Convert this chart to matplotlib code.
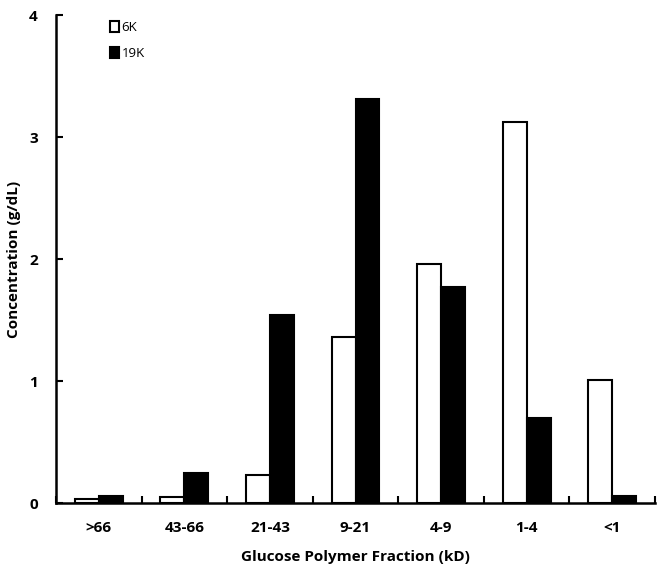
import numpy as np
import matplotlib
matplotlib.use('Agg')
import matplotlib.pyplot as plt
from matplotlib.patches import Patch

categories = ['>66', '43-66', '21-43', '9-21', '4-9', '1-4', '<1']
conc_6k = [0.03, 0.05, 0.23, 1.36, 1.96, 3.12, 1.01]
conc_19k = [0.06, 0.25, 1.54, 3.31, 1.77, 0.70, 0.06]
series_names = ['6K', '19K']

plt.rcParams['font.family'] = ['Open Sans', 'DejaVu Sans']

fig = plt.figure(figsize=(6.65, 5.7), dpi=100)
ax = fig.add_axes([0.0842, 0.1175, 0.9008, 0.856])

x = np.arange(len(categories))
w = 0.28
ax.bar(x - w / 2, conc_6k, width=w, color='white', edgecolor='black', linewidth=1.5)
ax.bar(x + w / 2, conc_19k, width=w, color='black', edgecolor='black', linewidth=1.5)

ax.set_xlim(-0.5, len(categories) - 0.5)
ax.set_ylim(0, 4)

for s in ['top', 'right']:
    ax.spines[s].set_visible(False)
for s in ['left', 'bottom']:
    ax.spines[s].set_linewidth(1.8)

# category boundaries get the tick marks, labels sit in between
ax.set_xticks(np.arange(len(categories) + 1) - 0.5)
ax.set_xticklabels([])
ax.set_xticks(x, minor=True)
ax.set_xticklabels(categories, minor=True, fontsize=11, fontweight='bold')
ax.tick_params(axis='x', which='major', direction='in', length=5, width=1.5)
ax.tick_params(axis='x', which='minor', length=0, pad=13)

ax.set_yticks([0, 1, 2, 3, 4])
ax.tick_params(axis='y', direction='in', length=5, width=1.5, pad=13, labelsize=11)
for lab in ax.get_yticklabels():
    lab.set_fontweight('bold')

ax.set_xlabel('Glucose Polymer Fraction (kD)', fontsize=11, fontweight='bold', labelpad=11)
ax.set_ylabel('Concentration (g/dL)', fontsize=11, fontweight='bold', labelpad=6)

handles = [Patch(facecolor='white', edgecolor='black', linewidth=1.5),
           Patch(facecolor='black', edgecolor='black', linewidth=1.5)]
ax.legend(handles, series_names, loc='upper left', bbox_to_anchor=(0.07, 1.012),
          frameon=False, fontsize=9.5, handlelength=0.7, handleheight=0.9,
          handletextpad=0.2, labelspacing=1.0)

fig.savefig('out.png', dpi=100)
